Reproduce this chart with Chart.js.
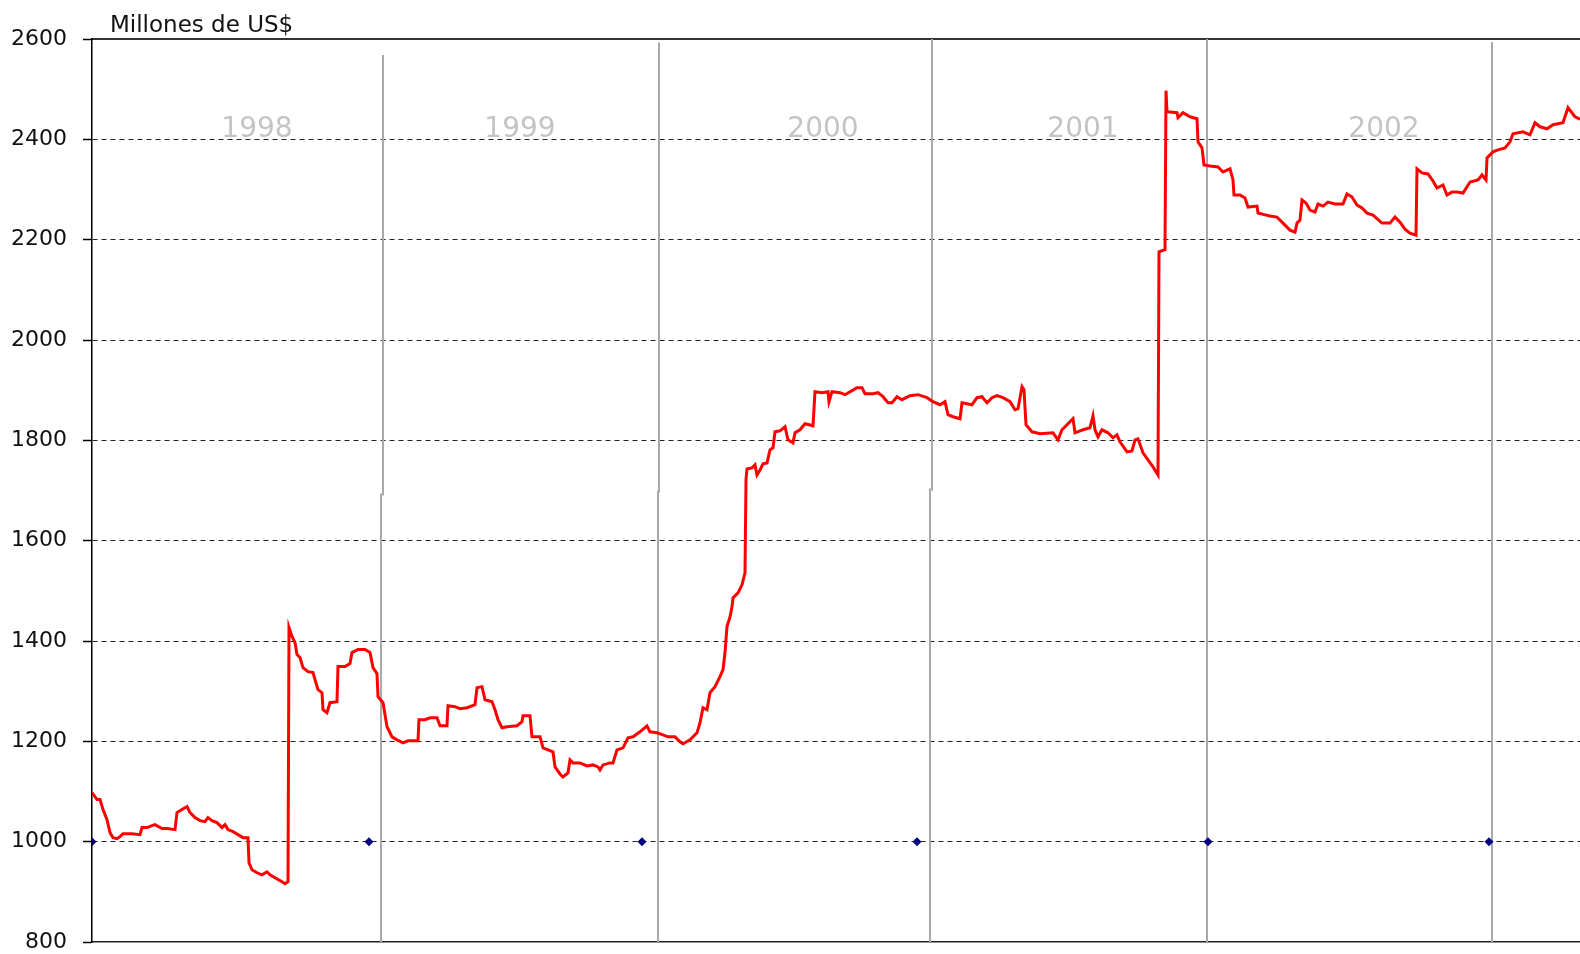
<!DOCTYPE html>
<html>
<head>
<meta charset="utf-8">
<script src="https://cdn.jsdelivr.net/npm/chart.js@4.4.1/dist/chart.umd.min.js"></script>
<style>
    html, body { margin: 0; padding: 0; background: #fff; }
    #wrap { width: 1580px; height: 954px; position: relative; }
</style>
</head>
<body>
<div id="wrap"><canvas id="reservasChart"></canvas></div>
<script>
// Reservas internacionales, millones de US$ (serie diaria, indice de observacion)
const resX = [0, 5, 8, 11, 15, 18, 21, 25, 28, 31, 40, 48, 50, 55, 60, 63, 70, 75, 83, 85,
    90, 95, 98, 103, 108, 113, 116, 120, 125, 130, 133, 136, 141, 146, 151, 156, 157, 160, 165, 170,
    175, 178, 183, 190, 193, 196, 197, 200, 203, 205, 208, 211, 216, 221, 223, 226, 230, 231, 235, 238,
    245, 246, 253, 258, 260, 266, 273, 278, 281, 285, 286, 291, 295, 300, 305, 311, 316, 326, 327, 333,
    338, 345, 348, 355, 356, 363, 368, 375, 383, 385, 390, 393, 400, 403, 406, 410, 415, 425, 430, 431,
    438, 440, 448, 451, 461, 463, 468, 471, 476, 478, 481, 488, 495, 501, 506, 508, 511, 518, 521, 525,
    531, 536, 541, 548, 555, 558, 565, 571, 576, 583, 588, 591, 598, 605, 608, 611, 615, 618, 623, 628,
    631, 633, 635, 638, 640, 641, 646, 650, 653, 654, 655, 660, 663, 665, 668, 671, 675, 678, 681, 683,
    688, 693, 696, 701, 703, 708, 713, 721, 723, 730, 736, 737, 740, 748, 753, 760, 765, 770, 773, 781,
    786, 791, 796, 800, 805, 810, 818, 826, 835, 841, 848, 853, 856, 861, 868, 870, 880, 885, 890, 895,
    900, 905, 911, 918, 923, 926, 930, 932, 934, 940, 948, 961, 966, 970, 975, 981, 983, 991, 998, 1001,
    1003, 1006, 1010, 1016, 1021, 1025, 1028, 1035, 1040, 1043, 1046, 1051, 1056, 1061, 1066, 1067, 1073, 1074, 1075, 1085,
    1086, 1091, 1098, 1105, 1106, 1110, 1112, 1118, 1126, 1131, 1138, 1141, 1142, 1148, 1153, 1156, 1165, 1166, 1178, 1185,
    1190, 1198, 1203, 1205, 1208, 1210, 1214, 1218, 1223, 1226, 1231, 1236, 1243, 1251, 1255, 1260, 1265, 1270, 1275, 1281,
    1290, 1298, 1303, 1308, 1313, 1318, 1324, 1325, 1330, 1336, 1341, 1345, 1351, 1355, 1360, 1365, 1371, 1378, 1386, 1390,
    1394, 1395, 1401, 1406, 1413, 1418, 1421, 1431, 1438, 1443, 1448, 1455, 1461, 1471, 1476, 1483, 1488];
const resY = [1098, 1084, 1084, 1064, 1044, 1018, 1008, 1006, 1010, 1016, 1016, 1014, 1028, 1028, 1032, 1034, 1026, 1026, 1024, 1058,
    1064, 1070, 1058, 1048, 1042, 1040, 1048, 1042, 1038, 1028, 1034, 1024, 1020, 1014, 1008, 1008, 958, 944, 938, 934,
    940, 934, 928, 920, 916, 920, 1427, 1409, 1397, 1373, 1367, 1347, 1339, 1337, 1323, 1303, 1297, 1263, 1257, 1277,
    1279, 1349, 1349, 1355, 1377, 1383, 1383, 1377, 1347, 1335, 1289, 1277, 1229, 1209, 1203, 1197, 1201, 1201, 1243, 1243,
    1247, 1247, 1231, 1231, 1271, 1269, 1265, 1267, 1273, 1307, 1309, 1283, 1279, 1263, 1243, 1227, 1229, 1231, 1239, 1251,
    1251, 1209, 1209, 1187, 1179, 1149, 1135, 1129, 1137, 1163, 1157, 1157, 1151, 1153, 1149, 1143, 1153, 1157, 1157, 1183,
    1187, 1207, 1209, 1219, 1231, 1219, 1217, 1213, 1209, 1209, 1199, 1195, 1203, 1217, 1237, 1267, 1263, 1297, 1309, 1329,
    1343, 1377, 1429, 1448, 1468, 1486, 1496, 1512, 1536, 1722, 1743, 1745, 1751, 1731, 1741, 1753, 1755, 1781, 1785, 1817,
    1819, 1827, 1801, 1795, 1815, 1821, 1833, 1829, 1897, 1895, 1897, 1877, 1897, 1895, 1891, 1899, 1905, 1905, 1893, 1893,
    1895, 1887, 1875, 1875, 1887, 1881, 1889, 1891, 1885, 1877, 1871, 1877, 1851, 1847, 1843, 1875, 1871, 1885, 1887, 1875,
    1885, 1889, 1885, 1877, 1861, 1863, 1907, 1901, 1831, 1817, 1813, 1815, 1801, 1821, 1831, 1843, 1815, 1821, 1825, 1849,
    1821, 1807, 1821, 1815, 1805, 1811, 1797, 1777, 1779, 1801, 1803, 1775, 1761, 1747, 1731, 2176, 2180, 2497, 2455, 2453,
    2443, 2453, 2445, 2441, 2395, 2383, 2349, 2347, 2345, 2335, 2341, 2319, 2289, 2289, 2283, 2265, 2267, 2253, 2247, 2245,
    2235, 2219, 2215, 2233, 2239, 2279, 2273, 2259, 2255, 2271, 2267, 2275, 2271, 2271, 2291, 2285, 2269, 2263, 2253, 2249,
    2233, 2233, 2245, 2235, 2221, 2213, 2209, 2341, 2333, 2331, 2317, 2303, 2309, 2289, 2295, 2295, 2293, 2315, 2319, 2329,
    2319, 2363, 2375, 2379, 2383, 2395, 2411, 2415, 2409, 2433, 2425, 2421, 2429, 2433, 2463, 2445, 2440];

// Marcas de inicio de año (serie auxiliar en 1000)
const yearStartX = [0, 277, 550, 825, 1116, 1397];
const yearStartY = [1000, 1000, 1000, 1000, 1000, 1000];

// Separadores de año (dos tramos: inferior y superior)
const sepLowX = [289, 566, 838, 1115, 1400];
const sepHighX = [291, 567, 840, 1115, 1400];
const sepBreak = [1692, 1698, 1702, 1700, 1700];
const sepTop = [2568, 2593, 2600, 2600, 2594];

const yearLabels = ['1998', '1999', '2000', '2001', '2002'];
const yearLabelX = [165, 428, 731, 991, 1292];
const yearLabelY = 2420;

const yTicks = [800, 1000, 1200, 1400, 1600, 1800, 2000, 2200, 2400, 2600];

const FONT = "'DejaVu Sans', 'Liberation Sans', sans-serif";

// construir datos
const reservas = resX.map((x, i) => ({ x: x, y: resY[i] }));
const marcas = yearStartX.map((x, i) => ({ x: x, y: yearStartY[i] }));
const separadores = [];
sepLowX.forEach((x, i) => {
    separadores.push({ x: x, y: 800 });
    separadores.push({ x: x, y: sepBreak[i] });
    separadores.push({ x: sepHighX[i], y: sepBreak[i] });
    separadores.push({ x: sepHighX[i], y: sepTop[i] });
    separadores.push({ x: sepHighX[i], y: null });
});

// textos: titulo del eje y rotulos de años
const textPlugin = {
    id: 'textos',
    afterDatasetsDraw(chart) {
        const { ctx, chartArea, scales } = chart;
        ctx.save();
        ctx.fillStyle = '#c4c4c4';
        ctx.font = '28px ' + FONT;
        ctx.textAlign = 'center';
        ctx.textBaseline = 'middle';
        yearLabels.forEach((label, i) => {
            ctx.fillText(label, scales.x.getPixelForValue(yearLabelX[i]), scales.y.getPixelForValue(yearLabelY));
        });
        ctx.fillStyle = '#111';
        ctx.font = '23px ' + FONT;
        ctx.textAlign = 'left';
        ctx.textBaseline = 'alphabetic';
        ctx.fillText('Millones de US$', chartArea.left + 18, chartArea.top - 7);
        ctx.restore();
    }
};

// sin relleno extra de las escalas: el area del grafico llega al borde
const noPadding = (s) => {
    s.paddingTop = 0;
    s.paddingBottom = 0;
    s.paddingLeft = 0;
    s.paddingRight = 0;
};

const ctx = document.getElementById('reservasChart');

new Chart(ctx, {
    type: 'line',
    data: {
        datasets: [
            {
                label: 'Reservas',
                data: reservas,
                borderColor: '#ff0000',
                borderWidth: 3,
                pointRadius: 0,
                tension: 0,
                fill: false
            },
            {
                label: 'Inicio de año',
                data: marcas,
                showLine: false,
                pointStyle: 'rectRot',
                pointRadius: 4.5,
                pointBackgroundColor: '#000080',
                pointBorderColor: '#000080',
                pointBorderWidth: 0
            },
            {
                label: 'Separadores',
                data: separadores,
                borderColor: '#a9a9a9',
                borderWidth: 2,
                pointRadius: 0,
                spanGaps: false,
                tension: 0
            }
        ]
    },
    options: {
        responsive: true,
        maintainAspectRatio: false,
        animation: false,
        layout: {
            autoPadding: false,
            padding: { top: 39, bottom: 12, left: 0, right: 0 }
        },
        plugins: {
            legend: { display: false },
            title: { display: false },
            tooltip: { enabled: false }
        },
        scales: {
            x: {
                type: 'linear',
                min: 0,
                max: 1488,
                ticks: { display: false },
                grid: { display: false },
                border: { display: true, color: '#222', width: 1.5 },
                afterFit: (s) => { s.height = 0; noPadding(s); }
            },
            x2: {
                type: 'linear',
                position: 'top',
                min: 0,
                max: 1488,
                ticks: { display: false },
                grid: { display: false },
                border: { display: true, color: '#333', width: 2 },
                afterFit: (s) => { s.height = 0; noPadding(s); }
            },
            y: {
                min: 800,
                max: 2600,
                afterBuildTicks: (s) => { s.ticks = yTicks.map(v => ({ value: v })); },
                ticks: {
                    color: '#111',
                    padding: 16,
                    font: { family: FONT, size: 22 },
                    callback: (v) => String(v)
                },
                grid: {
                    color: (c) => (c.tick && (c.tick.value === 800 || c.tick.value === 2600)) ? 'rgba(0,0,0,0)' : '#222',
                    lineWidth: 1,
                    tickLength: 9,
                    tickColor: '#000',
                    tickWidth: 1.5,
                    tickBorderDash: []
                },
                border: { display: true, color: '#000', width: 1.5, dash: [5, 4] },
                afterFit: (s) => { s.width = 92; noPadding(s); }
            }
        }
    },
    plugins: [textPlugin]
});
</script>
</body>
</html>
